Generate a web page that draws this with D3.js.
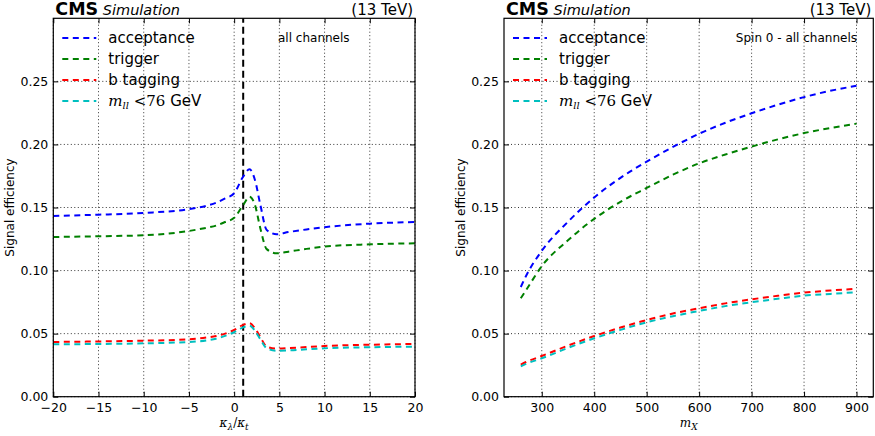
<!DOCTYPE html>
<html>
<head>
<meta charset="utf-8">
<script src="https://cdn.jsdelivr.net/npm/d3@7"></script>
<style>
  body { margin: 0; background: #fff; }
  text { font-family: "DejaVu Sans", sans-serif; }
</style>
</head>
<body>
<div id="chart"></div>
<script>
// left panel: efficiency vs kappa_lambda / kappa_t
const kappa = [-20, -15, -10, -5, -3, -2, -1, 0, 1, 1.7, 2.3, 2.9, 3.6, 4.7, 6, 8, 10, 15, 20];
const kAcceptance = [0.1433, 0.1443, 0.1457, 0.1487, 0.1515, 0.1538, 0.1572, 0.1613, 0.1745, 0.1803, 0.1718, 0.1520, 0.1322, 0.1288, 0.1305, 0.1326, 0.1344, 0.1372, 0.1385];
const kTrigger    = [0.1266, 0.1272, 0.1280, 0.1314, 0.1340, 0.1356, 0.1385, 0.1418, 0.1520, 0.1586, 0.1520, 0.1334, 0.1170, 0.1137, 0.1150, 0.1172, 0.1190, 0.1208, 0.1216];
const kBtag       = [0.0434, 0.0438, 0.0444, 0.0455, 0.0470, 0.0481, 0.0500, 0.0529, 0.0569, 0.0582, 0.0542, 0.0472, 0.0397, 0.0381, 0.0385, 0.0394, 0.0402, 0.0412, 0.0418];
const kMll        = [0.0415, 0.0418, 0.0423, 0.0434, 0.0447, 0.0460, 0.0482, 0.0511, 0.0550, 0.0563, 0.0523, 0.0455, 0.0384, 0.0365, 0.0367, 0.0376, 0.0384, 0.0392, 0.0397];

// right panel: efficiency vs m_X
const mass = [260, 270, 300, 350, 400, 450, 500, 550, 600, 650, 700, 750, 800, 850, 900];
const mAcceptance = [0.0870, 0.0957, 0.1157, 0.1387, 0.1580, 0.1735, 0.1864, 0.1980, 0.2085, 0.2172, 0.2247, 0.2315, 0.2375, 0.2425, 0.2465];
const mTrigger    = [0.0780, 0.0844, 0.1035, 0.1240, 0.1410, 0.1545, 0.1655, 0.1760, 0.1850, 0.1920, 0.1983, 0.2040, 0.2090, 0.2130, 0.2165];
const mBtag       = [0.0255, 0.0275, 0.0323, 0.0405, 0.0481, 0.0548, 0.0608, 0.0660, 0.0701, 0.0740, 0.0772, 0.0800, 0.0825, 0.0842, 0.0855];
const mMll        = [0.0240, 0.0260, 0.0304, 0.0387, 0.0463, 0.0530, 0.0590, 0.0638, 0.0680, 0.0718, 0.0749, 0.0776, 0.0801, 0.0815, 0.0828];

const seriesNames = ["acceptance", "trigger", "b tagging", "mll"];
const seriesColors = ["#0000ff", "#008000", "#ff0000", "#00bfbf"];
const yTicks = [0, 0.05, 0.10, 0.15, 0.20, 0.25];
const kappaTicks = [-20, -15, -10, -5, 0, 5, 10, 15, 20];
const massTicks = [300, 400, 500, 600, 700, 800, 900];

const svg = d3.select("#chart").append("svg")
    .attr("width", 875)
    .attr("height", 436);

function drawPanel(opt) {
    const x = d3.scaleLinear().domain(opt.xDomain).range([opt.left, opt.right]);
    const y = d3.scaleLinear().domain([0, 0.30]).range([396.7, 18.3]);
    const g = svg.append("g");

    //grid
    g.append("g").selectAll("line").data(opt.xTicks).join("line")
        .attr("x1", d => x(d)).attr("x2", d => x(d))
        .attr("y1", y(0)).attr("y2", y(0.30))
        .attr("stroke", "#000").attr("stroke-width", 0.8).attr("stroke-dasharray", "1,2.5");
    g.append("g").selectAll("line").data(yTicks).join("line")
        .attr("x1", opt.left).attr("x2", opt.right)
        .attr("y1", d => y(d)).attr("y2", d => y(d))
        .attr("stroke", "#000").attr("stroke-width", 0.8).attr("stroke-dasharray", "1,2.5");

    //axes with inward ticks
    const fmtY = d3.format(".2f");
    const axB = g.append("g").attr("transform", `translate(0,${y(0)})`)
        .call(d3.axisBottom(x).tickValues(opt.xTicks).tickSizeInner(-5).tickSizeOuter(0).tickPadding(6)
            .tickFormat(d => d < 0 ? "\u2212" + Math.abs(d) : d));
    const axL = g.append("g").attr("transform", `translate(${opt.left},0)`)
        .call(d3.axisLeft(y).tickValues(yTicks).tickSizeInner(-5).tickSizeOuter(0).tickPadding(5).tickFormat(fmtY));
    g.append("g").attr("transform", `translate(0,${y(0.30)})`)
        .call(d3.axisTop(x).tickValues(opt.xTicks).tickSizeInner(-5).tickSizeOuter(0).tickFormat(""));
    g.append("g").attr("transform", `translate(${opt.right},0)`)
        .call(d3.axisRight(y).tickValues(yTicks).tickSizeInner(-5).tickSizeOuter(0).tickFormat(""));
    g.selectAll(".domain").remove();
    g.selectAll(".tick line").attr("stroke", "#000");
    [axB, axL].forEach(a => a.selectAll("text").style("font-family", "DejaVu Sans").style("font-size", "12.5px").attr("fill", "#000"));
    axB.selectAll("text").attr("dy", "0.75em");

    //vertical marker
    if (opt.marker !== undefined) {
        g.append("line")
            .attr("x1", x(opt.marker)).attr("x2", x(opt.marker))
            .attr("y1", y(0)).attr("y2", y(0.30))
            .attr("stroke", "#000").attr("stroke-width", 2).attr("stroke-dasharray", "7,4");
    }

    //curves
    const line = d3.line().x(d => x(d[0])).y(d => y(d[1])).curve(d3.curveMonotoneX);
    opt.series.forEach((vals, i) => {
        g.append("path")
            .datum(opt.xs.map((v, j) => [v, vals[j]]))
            .attr("d", line)
            .attr("fill", "none")
            .attr("stroke", seriesColors[i])
            .attr("stroke-width", 2)
            .attr("stroke-dasharray", "6,4.5");
    });

    //frame
    g.append("rect")
        .attr("x", opt.left).attr("y", y(0.30))
        .attr("width", opt.right - opt.left).attr("height", y(0) - y(0.30))
        .attr("fill", "none").attr("stroke", "#000").attr("stroke-width", 1.2);

    //legend
    const legendRows = [38, 59, 80, 101];
    seriesNames.forEach((name, i) => {
        g.append("line")
            .attr("x1", opt.left + 9).attr("x2", opt.left + 43)
            .attr("y1", legendRows[i]).attr("y2", legendRows[i])
            .attr("stroke", seriesColors[i]).attr("stroke-width", 2)
            .attr("stroke-dasharray", "6,4.5");
        const t = g.append("text")
            .attr("x", opt.left + 55).attr("y", legendRows[i] + 5)
            .style("font-size", "15px").attr("fill", "#000");
        if (name === "mll") {
            t.append("tspan").text("m").style("font-family", "DejaVu Serif").style("font-style", "italic");
            t.append("tspan").text("ll").attr("dy", 3).style("font-size", "10px").style("font-family", "DejaVu Serif").style("font-style", "italic");
            t.append("tspan").text(" <76").attr("dy", -3).style("font-family", "DejaVu Serif");
            t.append("tspan").text(" GeV");
        } else {
            t.text(name);
        }
    });

    //annotation
    g.append("text")
        .attr("x", opt.noteX).attr("y", 42)
        .attr("text-anchor", opt.noteAnchor)
        .style("font-size", "12px")
        .text(opt.note);

    //header
    const h = g.append("text").attr("x", opt.left + 2).attr("y", 15);
    h.append("tspan").text("CMS").style("font-weight", "bold").style("font-size", "17.5px");
    h.append("tspan").text(" Simulation").style("font-style", "italic").style("font-size", "14.5px");
    g.append("text").attr("x", opt.right - 2).attr("y", 15).attr("text-anchor", "end")
        .style("font-size", "15px").text("(13 TeV)");

    //y label
    g.append("text")
        .attr("transform", `translate(${opt.left - 39},${y(0.15)}) rotate(-90)`)
        .attr("text-anchor", "middle")
        .style("font-size", "12px")
        .text("Signal efficiency");

    //x label
    const xl = g.append("text")
        .attr("x", (opt.left + opt.right) / 2).attr("y", 427)
        .attr("text-anchor", "middle")
        .style("font-family", "DejaVu Serif").style("font-style", "italic").style("font-size", "12px");
    opt.xLabel(xl);
}

drawPanel({
    left: 53.3, right: 415,
    xDomain: [-20, 20], xTicks: kappaTicks, xs: kappa,
    series: [kAcceptance, kTrigger, kBtag, kMll],
    marker: 1,
    note: "all channels", noteX: 278, noteAnchor: "start",
    xLabel: t => {
        t.append("tspan").text("\u03ba");
        t.append("tspan").text("\u03bb").attr("dy", 3).style("font-size", "9px");
        t.append("tspan").text("/").attr("dy", -3).style("font-style", "normal");
        t.append("tspan").text("\u03ba");
        t.append("tspan").text("t").attr("dy", 3).style("font-size", "9px");
    }
});

drawPanel({
    left: 504, right: 873.3,
    xDomain: [228, 932], xTicks: massTicks, xs: mass,
    series: [mAcceptance, mTrigger, mBtag, mMll],
    note: "Spin 0 - all channels", noteX: 857, noteAnchor: "end",
    xLabel: t => {
        t.append("tspan").text("m");
        t.append("tspan").text("X").attr("dy", 3).style("font-size", "9px");
    }
});
</script>
</body>
</html>
